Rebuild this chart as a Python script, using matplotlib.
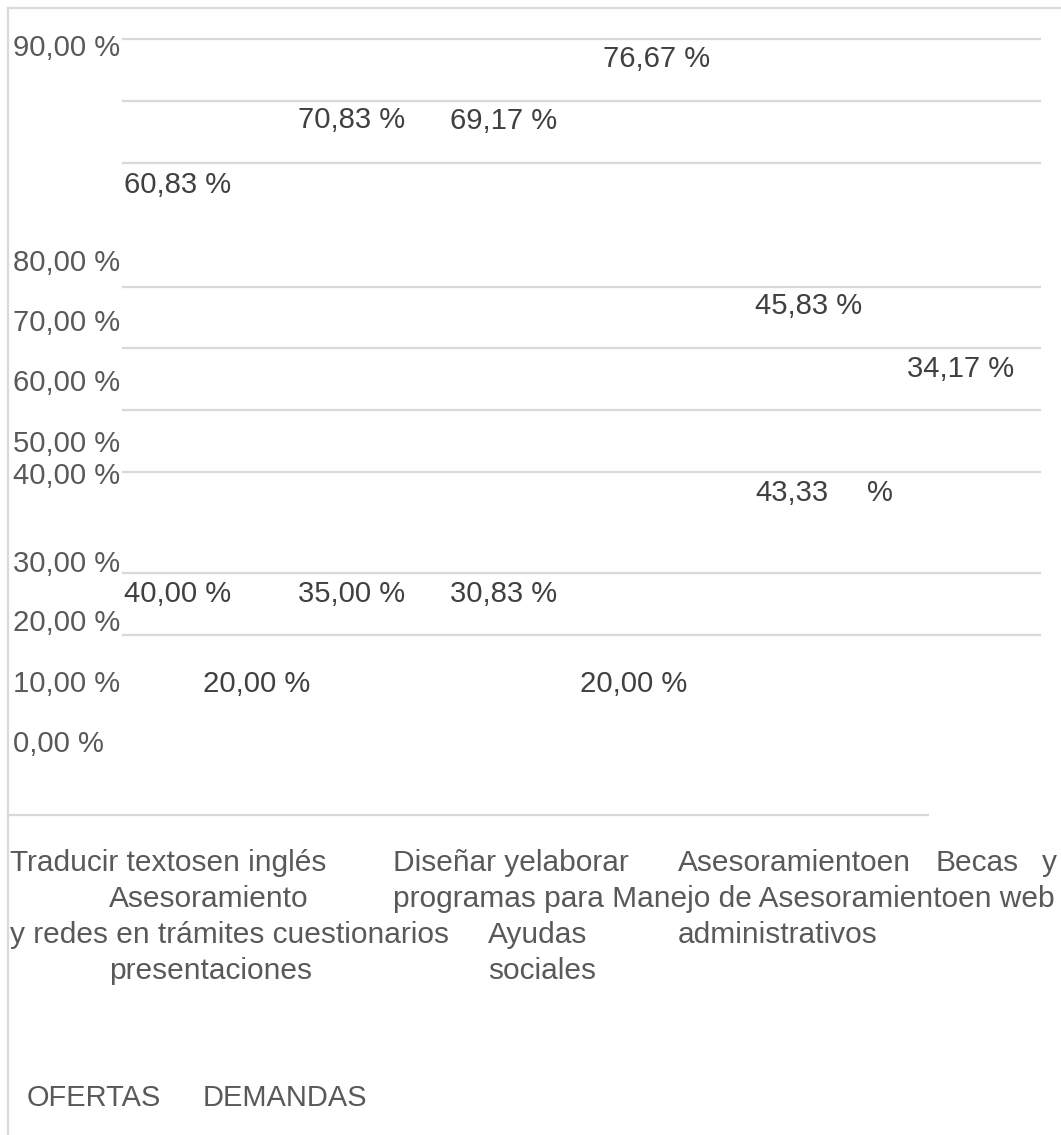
# Garbled bar chart (text only, bars lost) recreated as positioned text
import matplotlib.pyplot as plt

# Data
tick_labels = ["90,00 %", "80,00 %", "70,00 %", "60,00 %", "50,00 %",
               "40,00 %", "30,00 %", "20,00 %", "10,00 %", "0,00 %"]
ofertas = ["60,83 %", "70,83 %", "69,17 %", "76,67 %", "45,83 %", "34,17 %"]
demandas = ["40,00 %", "35,00 %", "30,83 %", "20,00 %", "20,00 %", "43,33"]
category_rows = [
    ["Traducir textosen inglés", "Diseñar yelaborar", "Asesoramientoen", "Becas", "y"],
    ["Asesoramiento", "programas para Manejo de Asesoramientoen web"],
    ["y redes en trámites cuestionarios", "Ayudas", "administrativos"],
    ["presentaciones", "sociales"],
]
legend_labels = ["OFERTAS", "DEMANDAS"]

# Layout (pixel positions in the page)
W, H = 1061, 1135
tick_y = [56, 271, 331, 391, 452, 484, 572, 631, 692, 752]
ofertas_xy = [(124, 193), (298, 128), (450, 129), (603, 67), (755, 314), (907, 377)]
demandas_xy = [(124, 602), (298, 602), (450, 602), (203, 692), (580, 692), (755, 501)]
category_x = [[10, 393, 678, 935, 1042], [109, 393], [10, 488, 678], [109, 488]]
category_y = [871, 907, 943, 979]
legend_x = [27, 203]
grid_y = [39, 101, 163, 287, 348, 410, 472, 573, 635]

grid_col = "#d9d9d9"
axis_col = "#595959"
label_col = "#404040"
fs_num = 21.1
fs_cat = 21.5
fs_leg = 20.9

plt.rcParams['font.family'] = ['Liberation Sans', 'DejaVu Sans']

fig = plt.figure(figsize=(W / 100, H / 100), dpi=100)
ax = fig.add_axes([0, 0, 1, 1])
ax.set_xlim(0, W)
ax.set_ylim(H, 0)
ax.axis('off')

# frame and gridlines
ax.plot([8, W], [8, 8], color=grid_col, lw=1.6)
ax.plot([8, 8], [8, H], color=grid_col, lw=1.6)
for y in grid_y:
    ax.plot([123, 1040], [y, y], color=grid_col, lw=1.6)
ax.plot([8, 928], [815, 815], color=grid_col, lw=1.6)

# axis labels
for lab, y in zip(tick_labels, tick_y):
    ax.text(13, y, lab, color=axis_col, fontsize=fs_num, va='baseline', ha='left')

# data labels
for lab, (x, y) in zip(ofertas, ofertas_xy):
    ax.text(x, y, lab, color=label_col, fontsize=fs_num, va='baseline', ha='left')
for lab, (x, y) in zip(demandas, demandas_xy):
    ax.text(x, y, lab, color=label_col, fontsize=fs_num, va='baseline', ha='left')
ax.text(867, 501, "%", color=label_col, fontsize=fs_num, va='baseline', ha='left')

# category labels
for row, xs, y in zip(category_rows, category_x, category_y):
    for lab, x in zip(row, xs):
        ax.text(x, y, lab, color=axis_col, fontsize=fs_cat, va='baseline', ha='left')

# legend
for lab, x in zip(legend_labels, legend_x):
    ax.text(x, 1106, lab, color=axis_col, fontsize=fs_leg, va='baseline', ha='left')

fig.savefig('out.png', dpi=100)
